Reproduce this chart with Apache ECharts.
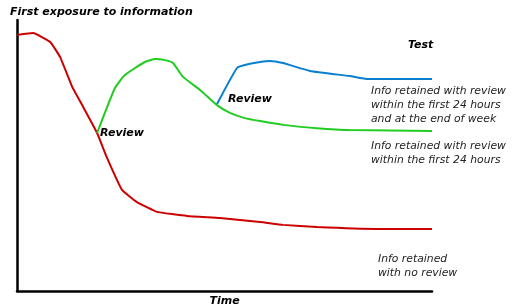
<!DOCTYPE html>
<html><head><meta charset="utf-8">
<script src="https://cdn.jsdelivr.net/npm/echarts@6/dist/echarts.min.js"></script>
<style>html,body{margin:0;padding:0;background:#fff}#c{width:512px;height:308px}</style>
</head><body><div id="c"></div>
<script>
// time (0-100) and retention (0-100)
const noReviewTime = [0, 3.9, 8.0, 10.4, 13.3, 15.7, 19.3, 21.7, 25.3, 28.9, 33.7, 41.0, 48.9, 58.6, 64.1, 72.3, 86.7, 100];
const noReviewVal  = [94.5, 95.2, 91.9, 86.3, 75.3, 68.6, 58.3, 49.1, 37.3, 32.8, 29.2, 27.7, 26.9, 25.5, 24.4, 23.6, 22.9, 22.9];
const review24Time = [19.3, 23.6, 26.0, 30.8, 33.3, 35.7, 37.6, 40.0, 44.1, 48.2, 51.3, 54.9, 58.6, 64.1, 72.3, 80.2, 100];
const review24Val  = [58.3, 74.9, 79.7, 84.5, 85.6, 85.2, 84.1, 79.0, 74.2, 68.6, 65.7, 63.8, 62.7, 61.3, 60.1, 59.4, 59.0];
const reviewWeekTime = [48.2, 53.0, 54.9, 58.6, 61.0, 64.1, 70.6, 80.2, 84.6, 100];
const reviewWeekVal  = [69.0, 82.3, 83.4, 84.5, 84.9, 84.1, 81.2, 79.3, 78.2, 78.2];

const yTitle = 'First exposure to information';
const xTitle = 'Time';
const testLabel = 'Test';
const reviewLabel = 'Review';
const infoWeek = ['Info retained with review', 'within the first 24 hours', 'and at the end of week'];
const info24 = ['Info retained with review', 'within the first 24 hours'];
const infoNone = ['Info retained', 'with no review'];

const zip = (a, b) => a.map((v, i) => [v, b[i]]);
const F = '"DejaVu Sans", Verdana, sans-serif';
const bold = {fontFamily: F, fontSize: 11, fontWeight: 'bold', fontStyle: 'italic', fill: '#000'};
const ital = {fontFamily: F, fontSize: 10.8, fontStyle: 'italic', fill: '#222', lineHeight: 14};

const chart = echarts.init(document.getElementById('c'));
chart.setOption({
  animation: false,
  grid: {left: 17, right: 80, top: 20, bottom: 17, containLabel: false, outerBoundsMode: 'none'},
  xAxis: {type: 'value', min: 0, max: 100,
    axisLine: {show: true, onZero: false, lineStyle: {color: '#000', width: 2.5}},
    axisTick: {show: false}, axisLabel: {show: false}, splitLine: {show: false},
    name: xTitle, nameLocation: 'middle', nameGap: 5,
    nameTextStyle: {fontFamily: F, fontSize: 11, fontWeight: 'bold', fontStyle: 'italic', color: '#000', verticalAlign: 'top'}},
  yAxis: {type: 'value', min: 0, max: 100,
    axisLine: {show: true, onZero: false, lineStyle: {color: '#000', width: 2.5}},
    axisTick: {show: false}, axisLabel: {show: false}, splitLine: {show: false}},
  series: [
    {type: 'line', data: zip(noReviewTime, noReviewVal), symbol: 'none', smooth: 0.1,
     lineStyle: {color: '#cc0000', width: 2}},
    {type: 'line', data: zip(review24Time, review24Val), symbol: 'none', smooth: 0.15,
     lineStyle: {color: '#22cc22', width: 2}},
    {type: 'line', data: zip(reviewWeekTime, reviewWeekVal), symbol: 'none', smooth: 0.15,
     lineStyle: {color: '#0a7fcf', width: 2}}
  ],
  graphic: [
    {type: 'text', left: 10, top: 7, style: Object.assign({text: yTitle}, bold)},
    {type: 'text', left: 408, top: 40, style: Object.assign({text: testLabel}, bold)},
    {type: 'text', left: 100, top: 128, style: Object.assign({text: reviewLabel}, bold)},
    {type: 'text', left: 228, top: 94, style: Object.assign({text: reviewLabel}, bold)},
    {type: 'text', left: 371, top: 84, style: Object.assign({text: infoWeek.join('\n')}, ital)},
    {type: 'text', left: 371, top: 139, style: Object.assign({text: info24.join('\n')}, ital)},
    {type: 'text', left: 378, top: 252, style: Object.assign({text: infoNone.join('\n')}, ital)}
  ]
});
</script></body></html>
